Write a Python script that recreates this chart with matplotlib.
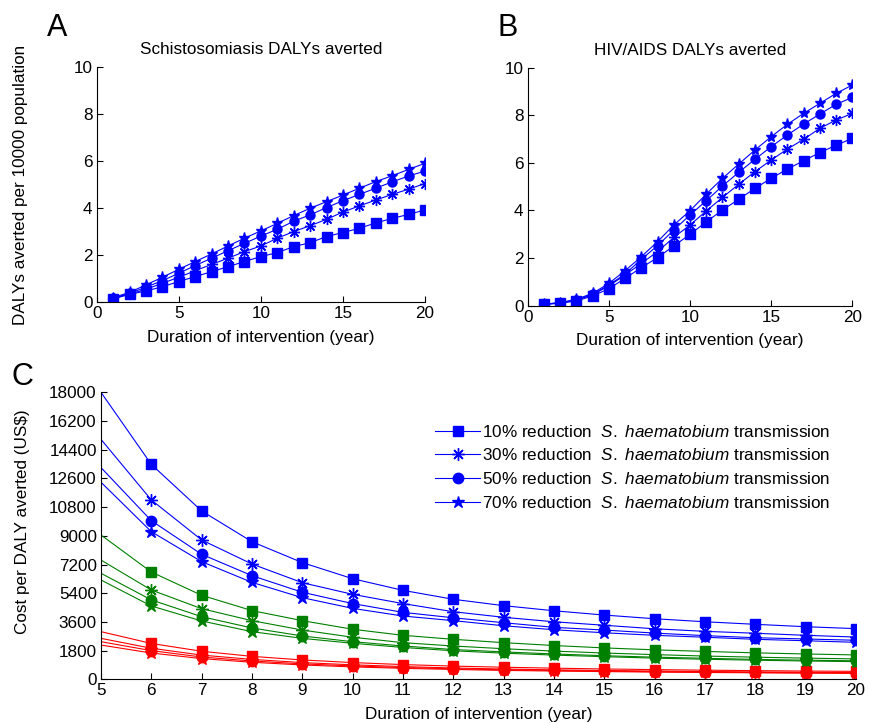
import numpy as np
import matplotlib
matplotlib.use("Agg")
import matplotlib.pyplot as plt

plt.rcParams['font.family'] = ['Liberation Sans', 'DejaVu Sans']
plt.rcParams['mathtext.fontset'] = 'custom'
plt.rcParams['mathtext.rm'] = 'Liberation Sans'
plt.rcParams['mathtext.it'] = 'Liberation Sans:italic'
plt.rcParams['font.size'] = 12

# ---- data ----
years_ab = list(range(1, 21))
years_c = list(range(5, 21))

reductions = ['10%', '30%', '50%', '70%']

# A: schistosomiasis DALYs averted per 10000
schisto_10 = [0.14, 0.34, 0.48, 0.66, 0.88, 1.09, 1.30, 1.51, 1.73, 1.94,
              2.11, 2.36, 2.53, 2.79, 2.96, 3.14, 3.37, 3.56, 3.73, 3.92]
schisto_30 = [0.17, 0.35, 0.55, 0.81, 1.06, 1.34, 1.61, 1.87, 2.15, 2.39,
              2.72, 3.00, 3.25, 3.52, 3.83, 4.09, 4.34, 4.58, 4.80, 5.04]
schisto_50 = [0.17, 0.38, 0.64, 0.92, 1.23, 1.56, 1.87, 2.19, 2.50, 2.81,
              3.10, 3.44, 3.71, 4.02, 4.31, 4.58, 4.84, 5.11, 5.36, 5.57]
schisto_70 = [0.20, 0.42, 0.74, 1.06, 1.40, 1.73, 2.05, 2.39, 2.72, 3.03,
              3.35, 3.68, 3.99, 4.27, 4.55, 4.84, 5.12, 5.37, 5.64, 5.90]

# B: HIV/AIDS DALYs averted per 10000
hiv_10 = [0.06, 0.10, 0.20, 0.41, 0.71, 1.15, 1.60, 2.02, 2.51, 3.00,
          3.52, 4.02, 4.47, 4.93, 5.35, 5.74, 6.09, 6.43, 6.74, 7.03]
hiv_30 = [0.06, 0.13, 0.24, 0.46, 0.83, 1.29, 1.78, 2.27, 2.87, 3.39,
          3.98, 4.55, 5.10, 5.63, 6.12, 6.58, 6.99, 7.45, 7.80, 8.08]
hiv_50 = [0.06, 0.11, 0.24, 0.48, 0.87, 1.33, 1.95, 2.52, 3.18, 3.81,
          4.41, 5.03, 5.60, 6.15, 6.68, 7.17, 7.63, 8.05, 8.46, 8.75]
hiv_70 = [0.06, 0.13, 0.27, 0.52, 0.94, 1.47, 2.06, 2.69, 3.39, 3.99,
          4.69, 5.35, 5.95, 6.54, 7.10, 7.62, 8.08, 8.50, 8.92, 9.27]

# C: cost per DALY averted (US$), three cost scenarios
blue_10 = [18000, 13480, 10560, 8630, 7320, 6310, 5580, 5020, 4620, 4300, 4030, 3800, 3610, 3450, 3300, 3180]
blue_30 = [15050, 11250, 8740, 7230, 6060, 5330, 4750, 4240, 3890, 3610, 3390, 3170, 3010, 2890, 2760, 2650]
blue_50 = [13280, 9950, 7840, 6500, 5460, 4750, 4200, 3860, 3550, 3260, 3090, 2900, 2740, 2610, 2530, 2450]
blue_70 = [12360, 9260, 7380, 6080, 5120, 4450, 3970, 3680, 3360, 3110, 2920, 2760, 2640, 2510, 2420, 2320]

green_10 = [9050, 6730, 5270, 4310, 3680, 3140, 2760, 2510, 2300, 2120, 1970, 1850, 1750, 1660, 1590, 1530]
green_30 = [7480, 5600, 4430, 3680, 3090, 2640, 2300, 2090, 1920, 1770, 1650, 1550, 1460, 1390, 1330, 1280]
green_50 = [6650, 4980, 3930, 3220, 2720, 2360, 2090, 1870, 1720, 1590, 1480, 1390, 1320, 1250, 1200, 1160]
green_70 = [6230, 4600, 3660, 2990, 2570, 2260, 2000, 1790, 1640, 1520, 1420, 1330, 1260, 1200, 1150, 1110]

red_10 = [2990, 2250, 1760, 1440, 1215, 1050, 925, 830, 760, 700, 650, 610, 575, 545, 520, 500]
red_30 = [2570, 1950, 1520, 1250, 1050, 910, 800, 710, 645, 595, 555, 520, 490, 465, 445, 425]
red_50 = [2360, 1800, 1400, 1150, 970, 840, 740, 660, 600, 555, 515, 480, 455, 430, 410, 395]
red_70 = [2150, 1650, 1300, 1070, 900, 780, 690, 620, 560, 520, 485, 455, 430, 410, 390, 375]

markers = ['s', (8, 2, 0), 'o', '*']
msizes = [6.5, 8, 6.5, 8]

fig = plt.figure(figsize=(8.69, 7.23), dpi=100)

def style_axes(ax):
    ax.spines['top'].set_visible(False)
    ax.spines['right'].set_visible(False)
    ax.tick_params(direction='in', length=4, width=0.8, labelsize=12.3, pad=3)
    for s in ['left', 'bottom']:
        ax.spines[s].set_linewidth(0.8)

# Panel A
axA = fig.add_axes([0.1113, 0.5819, 0.3778, 0.3259])
for ys, m, ms in zip([schisto_10, schisto_30, schisto_50, schisto_70], markers, msizes):
    axA.plot(years_ab, ys, color='#0000ff', lw=0.8, marker=m, ms=ms, mew=1.0)
axA.set_xlim(0, 20)
axA.set_ylim(0, 10)
axA.set_xticks([0, 5, 10, 15, 20])
axA.set_yticks([0, 2, 4, 6, 8, 10])
axA.set_title('Schistosomiasis DALYs averted', fontsize=12.3, pad=9)
axA.set_xlabel('Duration of intervention (year)', fontsize=12.3, labelpad=6)
axA.set_ylabel('DALYs averted per 10000 population', fontsize=12.3)
axA.yaxis.set_label_coords(-0.209, 0.5)
style_axes(axA)

# Panel B
axB = fig.add_axes([0.6073, 0.5772, 0.3735, 0.3292])
for ys, m, ms in zip([hiv_10, hiv_30, hiv_50, hiv_70], markers, msizes):
    axB.plot(years_ab, ys, color='#0000ff', lw=0.8, marker=m, ms=ms, mew=1.0)
axB.set_xlim(0, 20)
axB.set_ylim(0, 10)
axB.set_xticks([0, 5, 10, 15, 20])
axB.set_yticks([0, 2, 4, 6, 8, 10])
axB.set_title('HIV/AIDS DALYs averted', fontsize=12.3, pad=9)
axB.set_xlabel('Duration of intervention (year)', fontsize=12.3, labelpad=6)
style_axes(axB)

# Panel C
axC = fig.add_axes([0.1162, 0.0604, 0.8688, 0.397])
groups = [
    ('#ff0000', [red_10, red_30, red_50, red_70]),
    ('#008000', [green_10, green_30, green_50, green_70]),
    ('#0000ff', [blue_10, blue_30, blue_50, blue_70]),
]
handles = []
for color, series in groups:
    for ys, m, ms, r in zip(series, markers, msizes, reductions):
        h, = axC.plot(years_c, ys, color=color, lw=0.8, marker=m, ms=ms + 1,
                      mew=1.0, markevery=slice(1, None),
                      label=r'%s reduction  $\it{S.\ haematobium}$ transmission' % r)
        if color == '#0000ff':
            handles.append(h)
axC.set_xlim(5, 20)
axC.set_ylim(0, 18000)
axC.set_xticks(years_c)
axC.set_yticks(np.arange(0, 18001, 1800))
axC.set_xlabel('Duration of intervention (year)', fontsize=12.3, labelpad=6)
axC.set_ylabel(r'Cost per DALY averted (US\$)', fontsize=12.3)
axC.yaxis.set_label_coords(-0.094, 0.55)
style_axes(axC)
axC.legend(handles=handles, loc='upper left', bbox_to_anchor=(0.501, 0.414),
           bbox_transform=fig.transFigure, frameon=False, fontsize=12.3,
           handlelength=2.6, handletextpad=0.15, labelspacing=0.45,
           borderaxespad=0, borderpad=0)

# panel letters
fig.text(0.054, 0.941, 'A', fontsize=22, va='bottom')
fig.text(0.573, 0.941, 'B', fontsize=22, va='bottom')
fig.text(0.013, 0.458, 'C', fontsize=22, va='bottom')

fig.savefig('out.png', dpi=100)
